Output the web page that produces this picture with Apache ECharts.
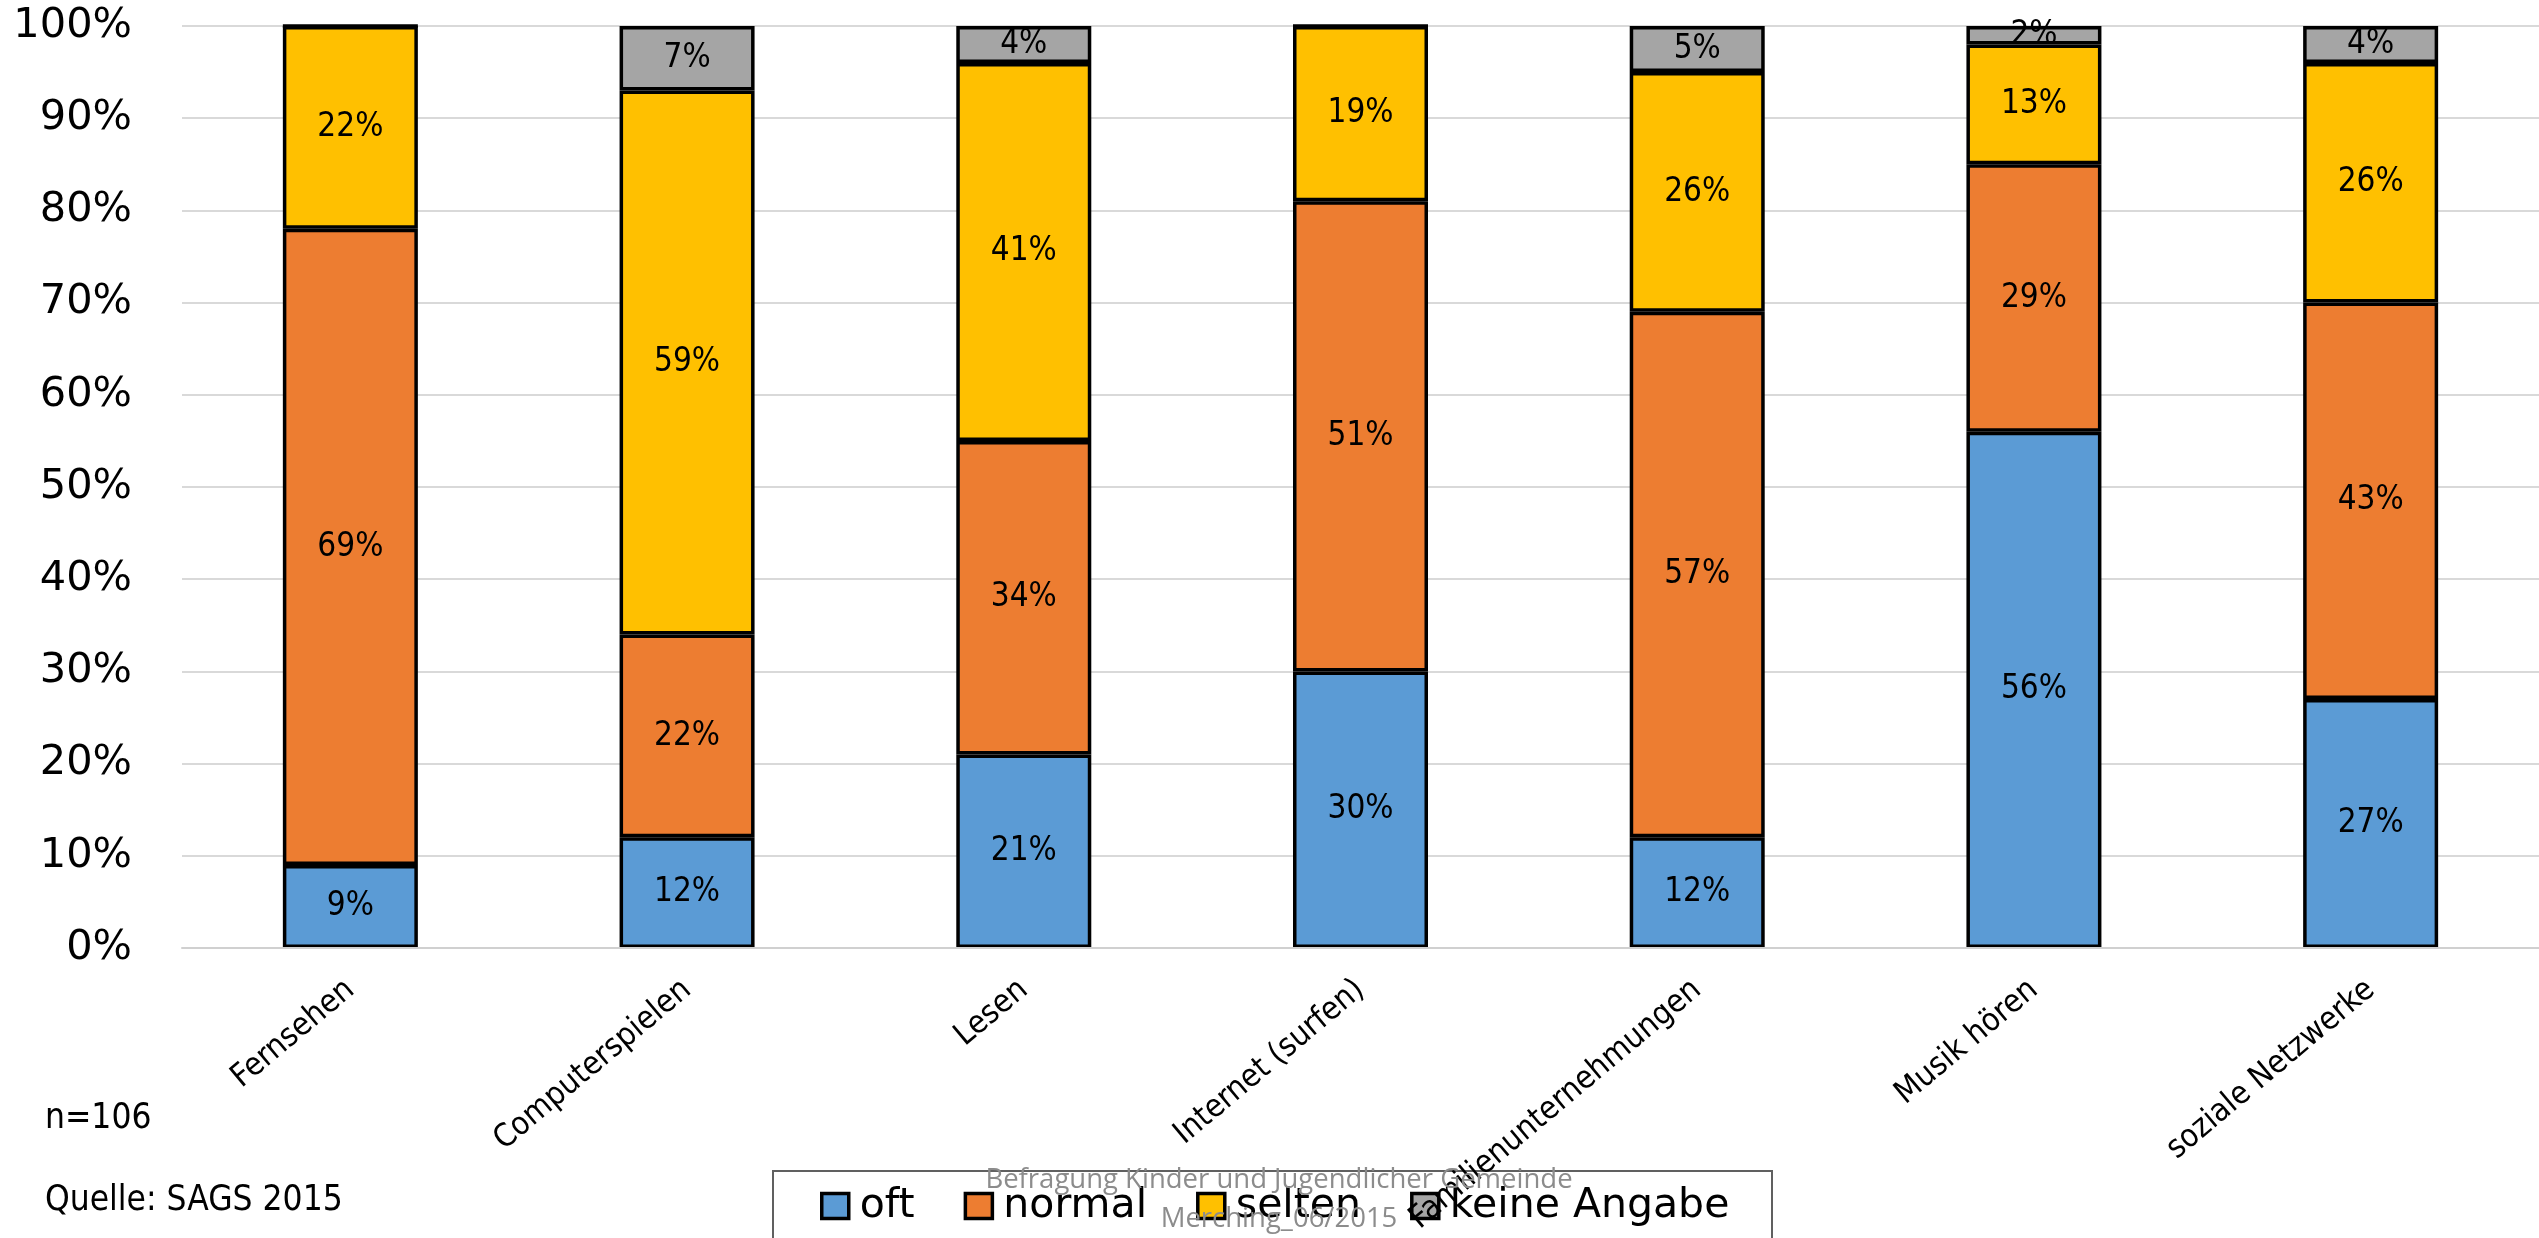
<!DOCTYPE html>
<html>
<head>
<meta charset="utf-8">
<script src="https://cdn.jsdelivr.net/npm/echarts@6/dist/echarts.min.js"></script>
<style>
html,body{margin:0;padding:0;background:#fff;}
#chart{width:2539px;height:1238px;}
</style>
</head>
<body>
<div id="chart"></div>
<script>
var categories = ['Fernsehen', 'Computerspielen', 'Lesen', 'Internet (surfen)', 'Familienunternehmungen', 'Musik hören', 'soziale Netzwerke'];
var seriesNames = ['oft', 'normal', 'selten', 'keine Angabe'];
var oftValues = [9, 12, 21, 30, 12, 56, 27];
var normalValues = [69, 22, 34, 51, 57, 29, 43];
var seltenValues = [22, 59, 41, 19, 26, 13, 26];
var keineValues = [0, 7, 4, 0, 5, 2, 4];
var yTicks = [0, 10, 20, 30, 40, 50, 60, 70, 80, 90, 100];
var colors = ['#5B9BD5', '#ED7D31', '#FFC000', '#A5A5A5'];
var noteN = 'n=106';
var noteSource = 'Quelle: SAGS 2015';
var watermark1 = 'Befragung Kinder und Jugendlicher Gemeinde';
var watermark2 = 'Merching_06/2015';

var FONT_C = "'DejaVu Sans Condensed', 'DejaVu Sans', sans-serif";
var FONT_R = "'DejaVu Sans', sans-serif";
var chart = echarts.init(document.getElementById('chart'));

function mkSeries(name, data, color) {
  return {
    name: name,
    type: 'bar',
    stack: 'total',
    barWidth: 135,
    data: data,
    itemStyle: { color: color, borderColor: '#000', borderWidth: 3.5 },
    label: {
      show: true,
      position: 'inside',
      color: '#000',
      fontFamily: FONT_C,
      fontSize: 33,
      formatter: function (p) { return p.value > 0 ? p.value + '%' : ''; }
    },
    emphasis: { disabled: true },
    z: 2
  };
}

chart.setOption({
  animation: false,
  backgroundColor: '#fff',
  color: colors,
  grid: { left: 182, right: -2, top: 26, bottom: 290, containLabel: false },
  xAxis: {
    type: 'category',
    data: categories,
    z: 10,
    axisTick: { show: false },
    axisLine: { lineStyle: { color: '#d0d0d0', width: 2 } },
    axisLabel: { interval: 0, rotate: 40, margin: 38, fontSize: 32, color: '#000', fontFamily: FONT_C }
  },
  yAxis: {
    type: 'value',
    min: yTicks[0],
    max: yTicks[yTicks.length - 1],
    interval: yTicks[1] - yTicks[0],
    axisLine: { show: false },
    axisTick: { show: false },
    splitLine: { lineStyle: { color: '#d9d9d9', width: 2 } },
    axisLabel: { formatter: '{value}%', fontSize: 41.5, margin: 50, color: '#000', fontFamily: FONT_R }
  },
  legend: {
    data: seriesNames,
    left: 820,
    top: 1185,
    padding: 0,
    z: 4,
    itemGap: 49,
    itemWidth: 27,
    itemHeight: 25,
    icon: 'rect',
    itemStyle: { borderColor: '#000', borderWidth: 3.5 },
    textStyle: { fontSize: 41, color: '#000', fontFamily: FONT_R, lineHeight: 42, padding: [0, 0, 0, 6] }
  },
  graphic: [
    { type: 'rect', z: 1, silent: true, shape: { x: 773, y: 1171, width: 999, height: 120 },
      style: { fill: '#fff', stroke: '#606060', lineWidth: 2 } },
    { type: 'text', z: 20, silent: true, style: { text: noteN, x: 45, y: 1119, fill: '#000', font: '35px ' + FONT_C, textAlign: 'left', textVerticalAlign: 'middle' } },
    { type: 'text', z: 20, silent: true, style: { text: noteSource, x: 45, y: 1201, fill: '#000', font: '35px ' + FONT_C, textAlign: 'left', textVerticalAlign: 'middle' } },
    { type: 'text', z: 30, silent: true, style: { text: watermark1, x: 1279, y: 1180, fill: '#8c8c8c', font: "27.5px 'Open Sans', sans-serif", textAlign: 'center', textVerticalAlign: 'middle' } },
    { type: 'text', z: 30, silent: true, style: { text: watermark2, x: 1279, y: 1219, fill: '#8c8c8c', font: "27.5px 'Open Sans', sans-serif", textAlign: 'center', textVerticalAlign: 'middle' } }
  ],
  series: [
    mkSeries(seriesNames[0], oftValues, colors[0]),
    mkSeries(seriesNames[1], normalValues, colors[1]),
    mkSeries(seriesNames[2], seltenValues, colors[2]),
    mkSeries(seriesNames[3], keineValues, colors[3])
  ]
});
</script>
</body>
</html>
